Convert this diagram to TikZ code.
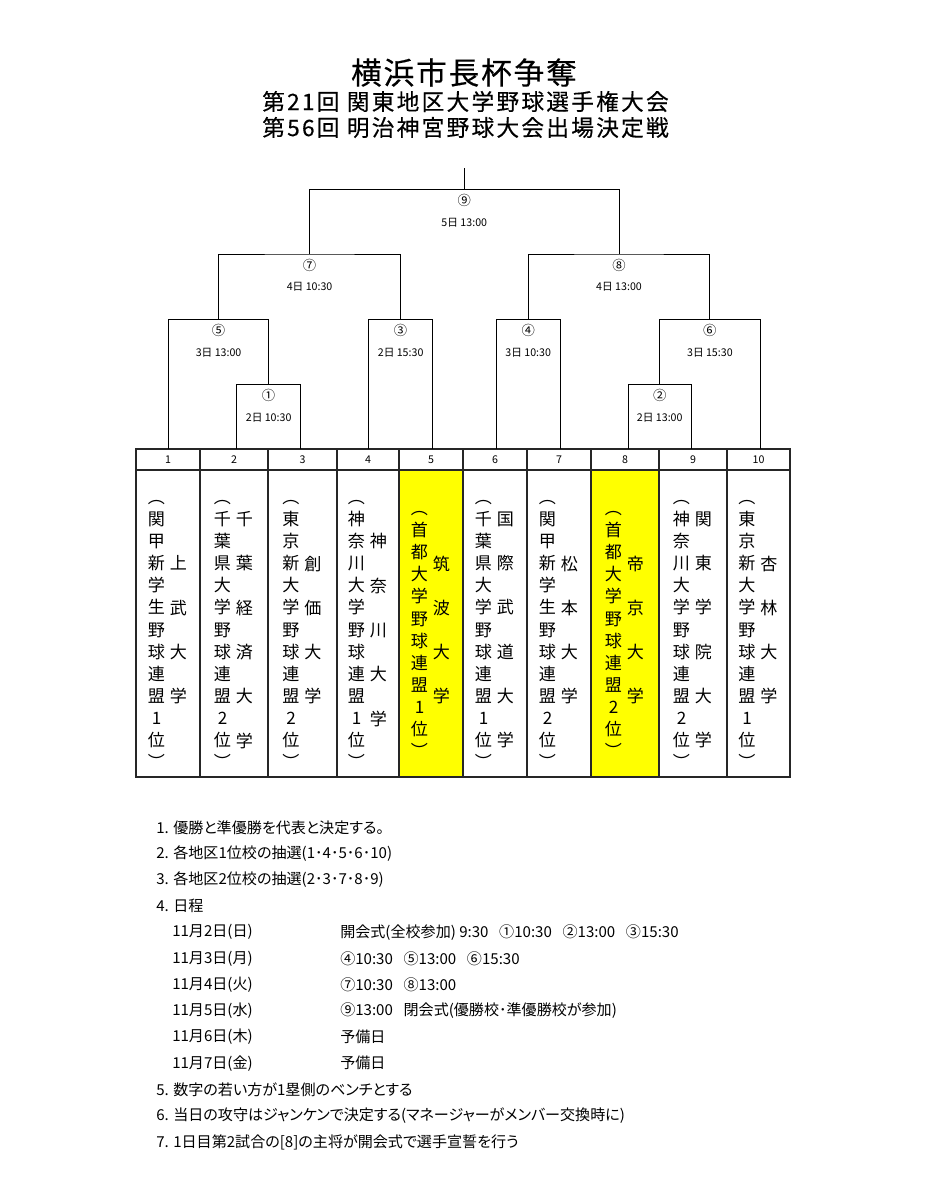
\documentclass[tikz,border=0pt]{standalone}
\usepackage{fontspec}
\setmainfont{Noto Sans CJK JP}
\newfontfamily\titleA[LetterSpace=6,FakeBold=0.3]{Noto Sans CJK JP}
\newfontfamily\titleB[LetterSpace=10,FakeBold=0.3]{Noto Sans CJK JP}
\newfontfamily\notefont[RawFeature=+palt]{Noto Sans CJK JP}
\usetikzlibrary{calc}
\definecolor{hl}{HTML}{FFFF00}
\ExplSyntaxOn
\NewDocumentCommand\vstack{mm}{
  \vbox{
    \baselineskip=#1 \lineskiplimit=-100pt \lineskip=0pt
    \tl_map_inline:nn {#2} { \hbox_to_wd:nn {1.2em} { \hss ##1 \vphantom{国} \hss } }
  }
}
\ExplSyntaxOff
\tikzset{
  tbl/.style={line width=0.9pt, black!85},
  brk/.style={line width=0.75pt, black},
  hnum/.style={inner sep=0pt, font=\fontsize{8pt}{9pt}\selectfont},
  circ/.style={inner sep=0pt, font=\fontsize{10pt}{11pt}\selectfont},
  when/.style={inner sep=0pt, font=\fontsize{8pt}{9pt}\selectfont},
  vleft/.style={inner sep=0pt, font=\fontsize{12.8pt}{14pt}\selectfont},
  vright/.style={inner sep=0pt, font=\fontsize{12.8pt}{14pt}\selectfont},
  note/.style={inner sep=0pt, anchor=west, font=\notefont\fontsize{11.3pt}{13pt}\selectfont},
}
\newcommand\gap{\hspace{8pt}}
\begin{document}
\begin{tikzpicture}[x=0.75pt,y=-0.75pt]
\fill[white] (0,0) rectangle (927,1200);
\useasboundingbox (0,0) rectangle (927,1200);

% ---- title ----
\node[inner sep=0pt, font=\titleA\fontsize{23pt}{26pt}\selectfont] (title1) at (464,72.5) {横浜市長杯争奪};
\node[inner sep=0pt, font=\titleB\fontsize{17pt}{19pt}\selectfont] (title2) at (465.5,101.5) {第21回 関東地区大学野球選手権大会};
\node[inner sep=0pt, font=\titleB\fontsize{17pt}{19pt}\selectfont] (title3) at (465.5,127.5) {第56回 明治神宮野球大会出場決定戦};

% ---- table ----
\fill[hl] (399,470) rectangle (463,777);
\fill[hl] (591,470) rectangle (659,777);
\draw[tbl] (136,449) rectangle (790,777);
\draw[tbl] (136,470) -- (790,470);
\foreach \xx in {200,268,337,399,463,527,591,659,727}
  \draw[tbl] (\xx,449) -- (\xx,777);

% header numbers
\node[hnum] (h1) at (168,459.5) {1};
\node[hnum] (h2) at (234,459.5) {2};
\node[hnum] (h3) at (302.5,459.5) {3};
\node[hnum] (h4) at (368,459.5) {4};
\node[hnum] (h5) at (431,459.5) {5};
\node[hnum] (h6) at (495,459.5) {6};
\node[hnum] (h7) at (559,459.5) {7};
\node[hnum] (h8) at (625,459.5) {8};
\node[hnum] (h9) at (693,459.5) {9};
\node[hnum] (h10) at (758.5,459.5) {10};

% vertical texts
\node[vleft] (l1) at (156.5,630) {\vstack{16.6pt}{︵関甲新学生野球連盟1位︶}};
\node[vright] (r1) at (178.5,630) {\vstack{33.2pt}{上武大学}};
\node[vleft] (l2) at (222.5,630) {\vstack{16.6pt}{︵千葉県大学野球連盟2位︶}};
\node[vright] (r2) at (244.5,630) {\vstack{33.2pt}{千葉経済大学}};
\node[vleft] (l3) at (291,630) {\vstack{16.6pt}{︵東京新大学野球連盟2位︶}};
\node[vright] (r3) at (313,630) {\vstack{33.2pt}{創価大学}};
\node[vleft] (l4) at (356.5,630) {\vstack{16.6pt}{︵神奈川大学野球連盟1位︶}};
\node[vright] (r4) at (378.5,630) {\vstack{33.2pt}{神奈川大学}};
\node[vleft] (l5) at (419.5,630) {\vstack{16.6pt}{︵首都大学野球連盟1位︶}};
\node[vright] (r5) at (441.5,630) {\vstack{33.2pt}{筑波大学}};
\node[vleft] (l6) at (483.5,630) {\vstack{16.6pt}{︵千葉県大学野球連盟1位︶}};
\node[vright] (r6) at (505.5,630) {\vstack{33.2pt}{国際武道大学}};
\node[vleft] (l7) at (547.5,630) {\vstack{16.6pt}{︵関甲新学生野球連盟2位︶}};
\node[vright] (r7) at (569.5,630) {\vstack{33.2pt}{松本大学}};
\node[vleft] (l8) at (613.5,630) {\vstack{16.6pt}{︵首都大学野球連盟2位︶}};
\node[vright] (r8) at (635.5,630) {\vstack{33.2pt}{帝京大学}};
\node[vleft] (l9) at (681.5,630) {\vstack{16.6pt}{︵神奈川大学野球連盟2位︶}};
\node[vright] (r9) at (703.5,630) {\vstack{33.2pt}{関東学院大学}};
\node[vleft] (l10) at (747,630) {\vstack{16.6pt}{︵東京新大学野球連盟1位︶}};
\node[vright] (r10) at (769,630) {\vstack{33.2pt}{杏林大学}};

% ---- bracket ----
\coordinate (t1) at (168.6,449);
\coordinate (t2) at (236.7,449);
\coordinate (t3) at (300.6,449);
\coordinate (t4) at (368.7,449);
\coordinate (t5) at (432.6,449);
\coordinate (t6) at (496.4,449);
\coordinate (t7) at (560,449);
\coordinate (t8) at (628,449);
\coordinate (t9) at (691.5,449);
\coordinate (t10) at (760,449);
\coordinate (j1) at (268.65,384.3);
\coordinate (j2) at (659.75,384.3);
\coordinate (j3) at (400.65,319.3);
\coordinate (j4) at (528.2,319.3);
\coordinate (j5) at (218.6,319.3);
\coordinate (j6) at (709.9,319.3);
\coordinate (j7) at (309.6,254);
\coordinate (j8) at (619.05,254);
\coordinate (j9) at (464.3,189.3);
\coordinate (top) at (464.3,168);

\draw[brk] (t2) |- (j1) -| (t3);
\draw[brk] (t8) |- (j2) -| (t9);
\draw[brk] (t4) |- (j3) -| (t5);
\draw[brk] (t6) |- (j4) -| (t7);
\draw[brk] (t1) |- (j5) -| (j1);
\draw[brk] (j2) |- (j6) -| (t10);
\draw[brk] (j5) |- (j7) -| (j3);
\draw[brk] (j4) |- (j8) -| (j6);
\draw[brk] (j7) |- (j9) -| (j8);
\draw[brk] (j9) -- (top);

\foreach \m/\c/\w in {1/①/2日 10:30, 2/②/2日 13:00, 3/③/2日 15:30, 4/④/3日 10:30, 5/⑤/3日 13:00, 6/⑥/3日 15:30, 7/⑦/4日 10:30, 8/⑧/4日 13:00, 9/⑨/5日 13:00}{
  \node[circ] (c\m) at ($(j\m)+(0,11)$) {\c};
  \node[when] (w\m) at ($(j\m)+(0,33)$) {\w};
}

% ---- notes ----
\node[note] (n1) at (156,827.5) {1. 優勝と準優勝を代表と決定する。};
\node[note] (n2) at (156,853.7) {2. 各地区1位校の抽選(1･4･5･6･10)};
\node[note] (n3) at (156,879.9) {3. 各地区2位校の抽選(2･3･7･8･9)};
\node[note] (n4) at (156,906.1) {4. 日程};
\node[note] (d1) at (172,932.3) {11月2日(日)};
\node[note] (e1) at (340,932.3) {開会式(全校参加) 9:30\gap{}①10:30\gap{}②13:00\gap{}③15:30};
\node[note] (d2) at (172,958.5) {11月3日(月)};
\node[note] (e2) at (340,958.5) {④10:30\gap{}⑤13:00\gap{}⑥15:30};
\node[note] (d3) at (172,984.7) {11月4日(火)};
\node[note] (e3) at (340,984.7) {⑦10:30\gap{}⑧13:00};
\node[note] (d4) at (172,1010.9) {11月5日(水)};
\node[note] (e4) at (340,1010.9) {⑨13:00\gap{}閉会式(優勝校･準優勝校が参加)};
\node[note] (d5) at (172,1037.1) {11月6日(木)};
\node[note] (e5) at (340,1037.1) {予備日};
\node[note] (d6) at (172,1063.3) {11月7日(金)};
\node[note] (e6) at (340,1063.3) {予備日};
\node[note] (n5) at (156,1089.5) {5. 数字の若い方が1塁側のベンチとする};
\node[note] (n6) at (156,1115.7) {6. 当日の攻守はジャンケンで決定する(マネージャーがメンバー交換時に)};
\node[note] (n7) at (156,1141.9) {7. 1日目第2試合の[8]の主将が開会式で選手宣誓を行う};
\end{tikzpicture}
\end{document}
